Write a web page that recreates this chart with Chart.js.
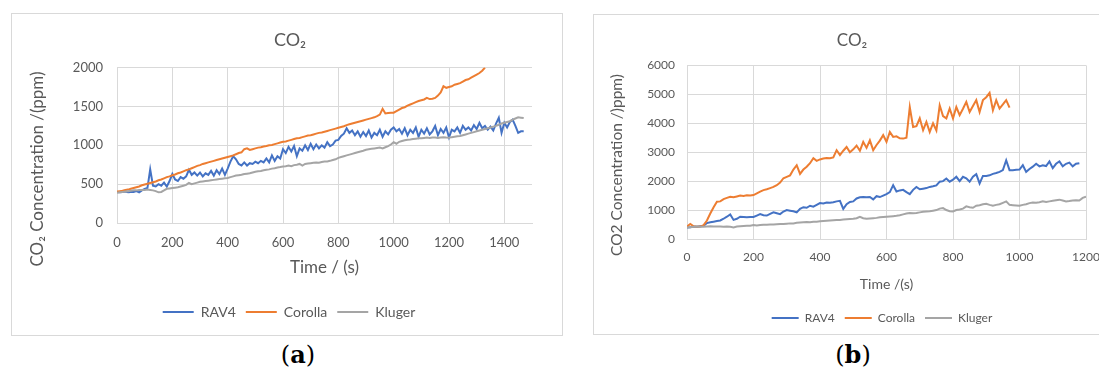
<!DOCTYPE html>
<html lang="en">
  <head>
    <meta charset="UTF-8" />
    <title>CO2 concentration in three vehicles</title>
    <script src="https://cdn.jsdelivr.net/npm/chart.js@4.4.1/dist/chart.umd.min.js"></script>
    <style>
      body {
        margin: 0;
        width: 1099px;
        height: 372px;
        overflow: hidden;
        position: relative;
        background: #ffffff;
      }
      .panel {
        position: absolute;
        box-sizing: border-box;
        border: 1px solid #d9d9d9;
        background: #ffffff;
      }
      #panelA { left: 11px; top: 13px; width: 552px; height: 323px; }
      #panelB { left: 593px; top: 14px; width: 540px; height: 321px; }
      .panel canvas { display: block; }
      .caption {
        position: absolute;
        transform: translate(-50%, -50%);
        font-family: "DejaVu Serif", "Liberation Serif", serif;
        font-size: 24px;
        color: #000;
      }
    </style>
  </head>
  <body>
    <div class="panel" id="panelA"><canvas id="chartA" width="550" height="321"></canvas></div>
    <div class="panel" id="panelB"><canvas id="chartB" width="538" height="319"></canvas></div>
    <div class="caption" style="left: 298px; top: 354px">(<b>a</b>)</div>
    <div class="caption" style="left: 853px; top: 354px">(<b>b</b>)</div>

    <script>
      // sample interval of the logged readings (s)
      const STEP = 10;

      const seriesNames = ["RAV4", "Corolla", "Kluger"];
      const seriesColors = ["#4472C4", "#ED7D31", "#A5A5A5"];

      // ---- panel (a) ----
      const xTicksA = [0, 200, 400, 600, 800, 1000, 1200, 1400];
      const yTicksA = [0, 500, 1000, 1500, 2000];
      const rav4A = [
        400, 395, 400, 405, 395, 400, 400, 410, 395, 420,
        440, 450, 690, 480, 470, 500, 480, 520, 470, 540,
        630, 560, 540, 590, 570, 600, 685, 620, 650, 610,
        650, 600, 640, 620, 670, 610, 680, 630, 700, 620,
        700, 790, 860, 820, 760, 740, 780, 740, 770, 760,
        790, 770, 800, 780, 830, 780, 870, 800, 860, 830,
        950, 900, 980, 920, 990, 860, 960, 930, 1000, 940,
        1020, 950, 1010, 960, 1000, 970, 1040, 990, 1010, 1060,
        1070, 1120, 1150, 1220, 1160, 1190, 1130, 1180, 1110, 1170,
        1120, 1190, 1100, 1160, 1130, 1200, 1110, 1180, 1140, 1200,
        1230, 1180, 1210, 1150, 1220, 1130, 1200, 1160, 1230, 1110,
        1200, 1150, 1220, 1140, 1180, 1250, 1130, 1210, 1160, 1230,
        1100, 1200, 1180, 1230, 1160, 1250, 1200, 1230, 1190, 1260,
        1210, 1290, 1220, 1250, 1200, 1240, 1190, 1280, 1355, 1160,
        1290, 1230, 1300, 1330, 1250, 1160, 1180, 1180
      ];
      const corollaA = [
        405, 410, 415, 425, 430, 440, 450, 460, 470, 485,
        495, 505, 515, 525, 535, 550, 560, 575, 590, 600,
        615, 625, 640, 650, 665, 680, 690, 705, 720, 735,
        745, 760, 770, 780, 790, 800, 810, 820, 830, 840,
        850, 860, 870, 885, 900, 910, 950, 960, 940, 950,
        960, 970, 975, 985, 990, 1000, 1005, 1015, 1025, 1035,
        1045, 1050, 1060, 1070, 1080, 1090, 1095, 1105, 1115, 1125,
        1130, 1140, 1150, 1160, 1165, 1175, 1185, 1195, 1205, 1215,
        1225, 1235, 1245, 1260, 1270, 1280, 1290, 1300, 1310, 1320,
        1330, 1340, 1350, 1360, 1375, 1395, 1470, 1410, 1415, 1420,
        1420, 1440, 1460, 1480, 1490, 1510, 1525, 1540, 1555, 1570,
        1580, 1590, 1610, 1595, 1600, 1610, 1640, 1680, 1760, 1740,
        1750, 1760, 1780, 1790, 1800, 1820, 1840, 1850, 1870, 1890,
        1910, 1930, 1960, 2000
      ];
      const klugerA = [
        390, 395, 400, 405, 410, 415, 420, 420, 425, 425,
        425, 430, 425, 420, 410, 395, 400, 420, 440, 445,
        450, 455, 460, 470, 480, 490, 515, 500, 510, 520,
        530, 535, 540, 545, 550, 555, 560, 565, 570, 575,
        580, 590, 600, 610, 615, 620, 630, 635, 640, 650,
        660, 665, 670, 680, 685, 690, 700, 705, 715, 720,
        727, 730, 740, 730, 745, 750, 760, 740, 760, 765,
        770, 775, 780, 775, 785, 790, 792, 800, 810, 820,
        838, 850, 860, 870, 880, 890, 900, 910, 920, 930,
        943, 950, 955, 960, 965, 970, 960, 975, 990, 1010,
        1040, 1020, 1045, 1055, 1065, 1072, 1075, 1080, 1085, 1090,
        1090, 1095, 1100, 1095, 1100, 1100, 1095, 1100, 1105, 1100,
        1098, 1105, 1110, 1115, 1120, 1130, 1140, 1150, 1160, 1170,
        1180, 1190, 1200, 1210, 1220, 1230, 1240, 1250, 1265, 1280,
        1290, 1300, 1310, 1330, 1345, 1360, 1355, 1350
      ];

      // ---- panel (b) ----
      const xTicksB = [0, 200, 400, 600, 800, 1000, 1200];
      const yTicksB = [0, 1000, 2000, 3000, 4000, 5000, 6000];
      const rav4B = [
        400, 410, 430, 420, 440, 460, 550, 580, 600, 620,
        640, 700, 770, 850, 660, 700, 770, 760, 750, 760,
        760, 810, 860, 820, 810, 870, 920, 890, 860, 950,
        1000, 980, 960, 920, 1040, 1100, 1080, 1150, 1120, 1180,
        1240, 1230, 1260, 1250, 1270, 1300, 1320, 1040, 1200, 1280,
        1300, 1400, 1440, 1450, 1440, 1450, 1370, 1480, 1450, 1500,
        1550, 1620, 1860, 1640, 1680, 1700, 1620, 1550, 1700, 1800,
        1720, 1740, 1760, 1800, 1820, 1850, 1980, 2000, 2090, 1980,
        2050, 2150, 2000, 2150, 2100, 1980, 2150, 2240, 1920, 2180,
        2180, 2200, 2250, 2280, 2320, 2380, 2720, 2380, 2380, 2390,
        2400, 2550, 2320, 2420, 2500, 2600, 2510, 2550, 2520, 2680,
        2450, 2600, 2680, 2510, 2600, 2640, 2510, 2600, 2620
      ];
      const corollaB = [
        430, 517, 440, 420, 430, 480, 640, 880, 1100, 1290,
        1300, 1380, 1420, 1460, 1440, 1470, 1500, 1490, 1510, 1500,
        1520, 1580, 1640, 1690, 1720, 1760, 1800, 1860, 1950, 2100,
        2150, 2200, 2400, 2550, 2250, 2400, 2500, 2620, 2790, 2700,
        2750, 2780, 2800, 2790, 2820, 3070, 2900, 3050, 3180, 3000,
        3100, 3230, 3050, 3360, 3150, 3410, 3070, 3250, 3400, 3590,
        3360, 3700, 3530, 3550, 3480, 3470, 3500, 4560, 3870, 3900,
        4170, 3760, 4050, 3700, 4000, 3750, 4620, 4250, 4170, 4510,
        4170, 4560, 4280, 4500, 4740, 4390, 4600, 4800, 4390, 4800,
        4900, 5050, 4450, 4800, 4510, 4650, 4800, 4540
      ];
      const klugerB = [
        400, 410, 420, 430, 425, 420, 430, 440, 430, 430,
        430, 420, 430, 420, 400, 430, 440, 450, 460, 460,
        480, 470, 480, 490, 490, 500, 500, 510, 520, 520,
        530, 540, 540, 560, 570, 580, 590, 580, 600, 600,
        610, 620, 630, 640, 650, 660, 660, 670, 680, 690,
        700, 720, 770, 720, 700, 710, 720, 730, 750, 760,
        770, 780, 790, 800, 820, 850, 880, 900, 890, 900,
        920, 940, 950, 960, 980, 1000, 1050, 1070, 1000, 960,
        950, 1000, 1020, 1050, 1130, 1100, 1080, 1150, 1170, 1200,
        1220, 1180, 1150, 1180, 1200, 1250, 1300, 1180, 1170, 1160,
        1150, 1180, 1200, 1240, 1260, 1250, 1270, 1300, 1280, 1300,
        1320, 1340, 1360, 1330, 1300, 1310, 1330, 1340, 1330, 1420,
        1460
      ];

      const FONT = "Lato, 'Open Sans', sans-serif";
      const TEXT = "#595959";
      Chart.defaults.font.family = FONT;
      Chart.defaults.color = TEXT;

      // Excel centres title and legend on the whole chart, not the plot
      const boxShift = {
        id: "boxShift",
        afterLayout(chart, args, opts) {
          if (chart.titleBlock) {
            chart.titleBlock.left += opts.titleDx;
            chart.titleBlock.right += opts.titleDx;
          }
          if (chart.legend) {
            chart.legend.left += opts.legendDx;
            chart.legend.right += opts.legendDx;
          }
        },
      };

      // vertical axis title, placed like the Excel one (lower than plot centre)
      const yAxisTitle = {
        id: "yAxisTitle",
        afterDraw(chart, args, opts) {
          const ctx = chart.ctx;
          ctx.save();
          ctx.translate(opts.x, opts.y);
          ctx.rotate(-Math.PI / 2);
          ctx.font = opts.size + "px " + FONT;
          ctx.fillStyle = TEXT;
          ctx.textAlign = "center";
          ctx.textBaseline = "middle";
          ctx.fillText(opts.text, 0, 0);
          ctx.restore();
        },
      };

      function toPoints(values) {
        return values.map((v, i) => ({ x: i * STEP, y: v }));
      }

      function makeDatasets(lists) {
        // Excel draws the last series on top, so reverse the draw order
        return lists.map((values, i) => ({
          label: seriesNames[i],
          data: toPoints(values),
          borderColor: seriesColors[i],
          backgroundColor: seriesColors[i],
          borderWidth: 2,
          pointRadius: 0,
          tension: 0,
          order: lists.length - i,
        }));
      }

      function makeChart(id, s) {
        return new Chart(document.getElementById(id), {
          type: "line",
          data: { datasets: makeDatasets(s.series) },
          options: {
            responsive: false,
            animation: false,
            layout: { padding: { left: 0, right: s.padRight, top: 0, bottom: s.padBottom } },
            plugins: {
              title: {
                display: true,
                text: "CO₂",
                color: TEXT,
                font: { size: s.titleSize, weight: "normal" },
                padding: { top: s.titleTop, bottom: s.titleBottom },
              },
              legend: {
                position: "bottom",
                labels: {
                  usePointStyle: true,
                  pointStyle: "line",
                  pointStyleWidth: s.legendLine,
                  padding: 10,
                  font: { size: s.legendSize },
                  color: TEXT,
                  sort: (a, b) => a.datasetIndex - b.datasetIndex,
                },
              },
              tooltip: { enabled: false },
              boxShift: { titleDx: s.titleDx, legendDx: s.legendDx },
              yAxisTitle: { text: s.yTitle, x: s.yTitleX, y: s.yTitleY, size: s.yTitleSize },
            },
            scales: {
              x: {
                type: "linear",
                min: 0,
                max: s.xMax,
                afterBuildTicks: (axis) => {
                  axis.ticks = s.xTicks.map((v) => ({ value: v }));
                },
                afterFit: (axis) => {
                  axis.height = s.xHeight;
                },
                ticks: {
                  font: { size: s.tickSize },
                  padding: s.xTickPad,
                  maxRotation: 0,
                  callback: (v) => String(v),
                },
                grid: { color: "#d9d9d9", drawTicks: false },
                border: { color: "#d9d9d9" },
                title: {
                  display: true,
                  text: s.xTitle,
                  color: TEXT,
                  font: { size: s.xTitleSize },
                  padding: { top: 0, bottom: s.xTitleBottom },
                },
              },
              y: {
                min: 0,
                max: s.yMax,
                afterBuildTicks: (axis) => {
                  axis.ticks = s.yTicks.map((v) => ({ value: v }));
                },
                afterFit: (axis) => {
                  axis.width = s.yWidth;
                },
                ticks: {
                  font: { size: s.tickSize },
                  padding: s.yTickPad,
                  callback: (v) => String(v),
                },
                grid: { color: "#d9d9d9", drawTicks: false },
                border: { display: false },
              },
            },
          },
          plugins: [boxShift, yAxisTitle],
        });
      }

      makeChart("chartA", {
        series: [rav4A, corollaA, klugerA],
        xTicks: xTicksA, yTicks: yTicksA, xMax: 1500, yMax: 2000,
        xTitle: "Time / (s)", yTitle: "CO₂ Concentration /(ppm)",
        padRight: 30, padBottom: 6,
        titleSize: 18, titleTop: 15, titleBottom: 17, titleDx: 18,
        tickSize: 13, xTickPad: 12, yTickPad: 14,
        xHeight: 72, xTitleSize: 17, xTitleBottom: 17,
        yWidth: 105, yTitleSize: 17, yTitleX: 26, yTitleY: 155,
        legendSize: 14, legendLine: 31, legendDx: 17,
      });

      makeChart("chartB", {
        series: [rav4B, corollaB, klugerB],
        xTicks: xTicksB, yTicks: yTicksB, xMax: 1200, yMax: 6000,
        xTitle: "Time /(s)", yTitle: "CO2 Concentration /)ppm)",
        padRight: 46, padBottom: 0,
        titleSize: 17, titleTop: 15, titleBottom: 15, titleDx: 12,
        tickSize: 12, xTickPad: 11, yTickPad: 12,
        xHeight: 63, xTitleSize: 14, xTitleBottom: 9,
        yWidth: 93, yTitleSize: 15.5, yTitleX: 23, yTitleY: 150,
        legendSize: 12, legendLine: 27, legendDx: 42,
      });
    </script>
  </body>
</html>
